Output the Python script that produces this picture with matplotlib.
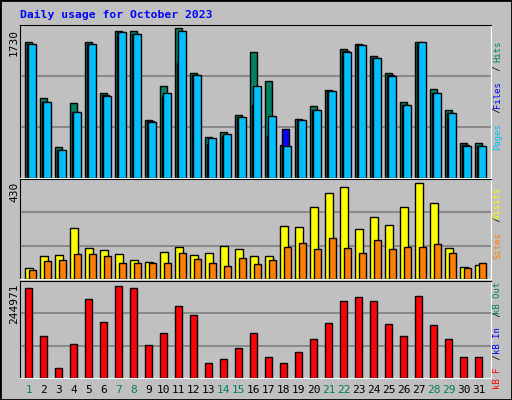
import numpy as np
import matplotlib.pyplot as plt

days = np.arange(1, 32)
weekend = [1, 7, 8, 14, 15, 21, 22, 28, 29]

# values
hits = [1565, 919, 348, 861, 1565, 975, 1694, 1694, 661, 1064, 1730, 1205,
        466, 532, 720, 1448, 1123, 379, 677, 826, 1017, 1483, 1546, 1409,
        1205, 873, 1565, 1025, 779, 395, 395]
files = [1542, 872, 313, 755, 1542, 951, 1683, 1659, 650, 935, 1323, 1182,
         391, 485, 697, 837, 485, 567, 661, 779, 1002, 1460, 1530, 1386,
         1182, 837, 1542, 979, 744, 379, 368]
pages = [1542, 872, 321, 755, 1542, 940, 1683, 1659, 638, 982, 1694, 1182,
         462, 509, 697, 1061, 712, 368, 661, 779, 1002, 1448, 1530, 1386,
         1170, 837, 1565, 979, 744, 368, 368]
visits = [50, 101, 106, 227, 138, 129, 110, 87, 78, 120, 144, 106, 115,
          148, 134, 101, 101, 237, 232, 320, 385, 413, 223, 275, 241, 324,
          430, 339, 138, 54, 64]
sites = [40, 82, 87, 110, 110, 101, 73, 73, 73, 73, 115, 91, 73, 59, 96,
         68, 87, 143, 161, 134, 185, 138, 115, 175, 134, 143, 143, 157, 115,
         50, 73]
kbf = [240516, 112206, 26725, 90830, 211117, 149649, 244971, 240516,
       88157, 120224, 192410, 168358, 40087, 50778, 80177, 120224, 56123,
       40087, 70377, 103297, 146976, 205772, 216462, 205772, 144303,
       111315, 219135, 140740, 103297, 55232, 55232]

BG = '#C0C0C0'
W, H = 512, 400
fig = plt.figure(figsize=(W / 100, H / 100), dpi=100, facecolor=BG)


def px_axes(x0, y0, x1, y1):
    ax = fig.add_axes([x0 / W, 1 - y1 / H, (x1 - x0) / W, (y1 - y0) / H])
    ax.set_facecolor(BG)
    ax.set_xticks([])
    ax.set_yticks([])
    ax.set_xlim(-0.35, 31.05)
    for s in ('left', 'top'):
        ax.spines[s].set_color('black')
    for s in ('right', 'bottom'):
        ax.spines[s].set_color('white')
    return ax


def grid(ax, top):
    for f in (1 / 3, 2 / 3):
        ax.axhline(top * f, color='#808080', lw=1.2, zorder=0)


x = days - 1

ax1 = px_axes(20, 24.5, 491, 177.5)
top1 = 1730 * 151 / 147.4
ax1.set_ylim(0, top1)
grid(ax1, top1)
ax1.bar(x, hits, width=0.47, align='edge', color='#008060', edgecolor='black', lw=1)
ax1.bar(x + 0.12, files, width=0.47, align='edge', color='#0000FF', edgecolor='black', lw=1)
ax1.bar(x + 0.2, pages, width=0.53, align='edge', color='#00C0FF', edgecolor='black', lw=1)

ax2 = px_axes(20, 179, 491, 279)
top2 = 430 * 288 / 277
ax2.set_ylim(0, top2)
grid(ax2, top2)
ax2.bar(x, visits, width=0.53, align='edge', color='#FFFF00', edgecolor='black', lw=1)
ax2.bar(x + 0.27, sites, width=0.47, align='edge', color='#FF8000', edgecolor='black', lw=1)

ax3 = px_axes(20, 280.5, 491, 378)
top3 = 244971 * 291 / 275
ax3.set_ylim(0, top3)
grid(ax3, top3)
ax3.bar(x, kbf, width=0.47, align='edge', color='#FF0000', edgecolor='black', lw=1)

# day labels
for d in days:
    fig.text((25.3 + 15 * (d - 1) + 3.5) / W, 1 - 390 / H, str(d),
             ha='center', va='center', fontsize=8, family='DejaVu Sans Mono',
             color='#008060' if d in weekend else 'black')

fig.text(20 / W, 1 - 15 / H, 'Daily usage for October 2023', color='#0000FF',
         fontsize=8.2, family='DejaVu Sans Mono', weight='bold', va='center')

for label, ytop in (('1730', 29), ('430', 182), ('244971', 283)):
    fig.text(14 / W, 1 - ytop / H, label, rotation=90, ha='center', va='top',
             fontsize=8, family='DejaVu Sans Mono')

RFS = 6.4
CW = 0.6 * RFS * 100 / 72


def right_label(parts, ybottom):
    # draw words one by one, stepping up by monospace advance
    y = ybottom
    for txt, col in parts:
        fig.text(500 / W, 1 - y / H, txt, rotation=90, ha='center',
                 va='baseline', rotation_mode='anchor', color=col,
                 fontsize=RFS, family='DejaVu Sans Mono')
        y -= CW * len(txt)


right_label([('Pages', '#00C0FF'), (' / ', 'black'), ('Files', '#0000FF'),
             (' / ', 'black'), ('Hits', '#008060')], 137)
right_label([('Sites', '#FF8000'), (' / ', 'black'), ('Visits', '#FFFF00')], 246)
right_label([('kB F', '#FF0000'), (' / ', 'black'), ('kB In', '#0000FF'),
             (' / ', 'black'), ('kB Out', '#008060')], 378)

fig.add_artist(plt.Rectangle((0, 0), 1, 1, transform=fig.transFigure,
                             fill=False, edgecolor='black', lw=2))
fig.savefig('out.png', dpi=100, facecolor=BG)
